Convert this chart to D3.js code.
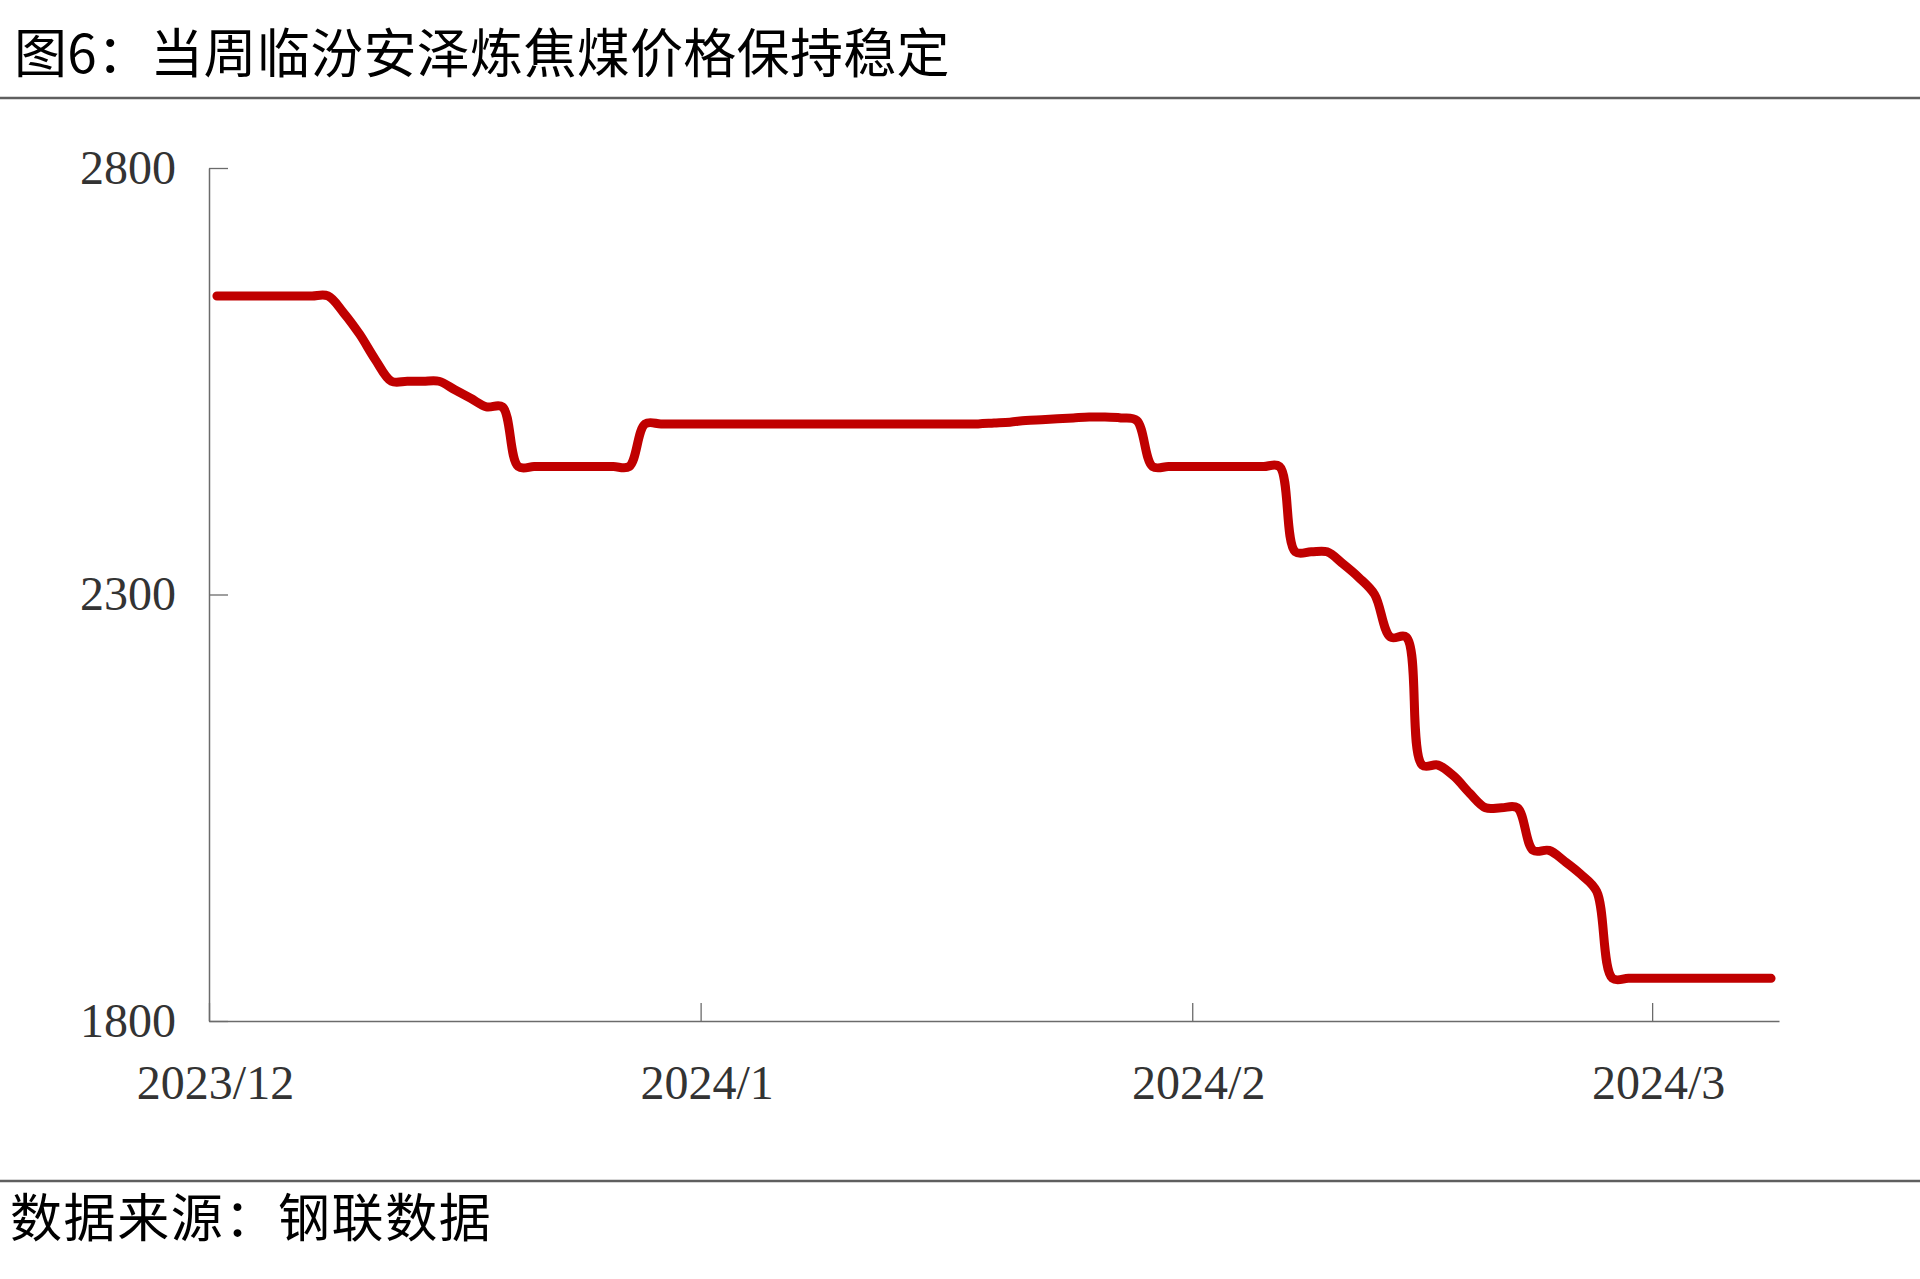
<!DOCTYPE html>
<html>
<head>
<meta charset="utf-8">
<script src="https://cdn.jsdelivr.net/npm/d3@7/dist/d3.min.js"></script>
<style>
  html, body { margin: 0; padding: 0; background: #fff; }
  svg { display: block; }
</style>
</head>
<body>
<svg id="chart" width="1920" height="1279"></svg>
<script>
// ---- Data ----
const titleText = "图6：当周临汾安泽炼焦煤价格保持稳定";
const sourceText = "数据来源：钢联数据";
const yTicks = [1800, 2300, 2800];
const xTickLabels = ["2023/12", "2024/1", "2024/2", "2024/3"];
// daily prices, one value per calendar day
const decValues = [2650, 2650, 2650, 2650, 2650, 2650, 2650, 2650, 2630, 2605,
                   2575, 2550, 2550, 2550, 2550, 2540, 2530, 2520, 2520, 2450,
                   2450, 2450, 2450, 2450, 2450, 2450, 2450, 2500, 2500, 2500, 2500];
const janValues = [2500, 2500, 2500, 2500, 2500, 2500, 2500, 2500, 2500, 2500,
                   2500, 2500, 2500, 2500, 2500, 2500, 2500, 2500, 2501, 2502,
                   2504, 2505, 2506, 2507, 2508, 2508, 2507, 2504, 2450, 2450, 2450];
const febValues = [2450, 2450, 2450, 2450, 2450, 2450, 2350, 2350, 2350, 2336,
                   2320, 2300, 2250, 2250, 2100, 2100, 2087, 2067, 2050, 2050,
                   2050, 2000, 2000, 1987, 1972, 1952, 1850, 1850, 1850];
const marValues = [1850, 1850, 1850, 1850, 1850, 1850, 1850, 1850];

// ---- Build the series ----
const months = [
  { start: new Date(2023, 11, 1), values: decValues },
  { start: new Date(2024, 0, 1), values: janValues },
  { start: new Date(2024, 1, 1), values: febValues },
  { start: new Date(2024, 2, 1), values: marValues }
];
const series = [];
months.forEach(m => {
  m.values.forEach((v, i) => {
    series.push({ date: d3.timeDay.offset(m.start, i), value: v });
  });
});
const parseTick = d3.timeParse("%Y/%m");
const xTickDates = xTickLabels.map(s => parseTick(s));

// ---- Layout ----
const svg = d3.select("#chart");
const W = 1920, H = 1279;
const plot = { left: 209, right: 1779, top: 168, bottom: 1021 };

svg.append("rect").attr("width", W).attr("height", H).attr("fill", "#fff");

// title
svg.append("text")
  .attr("x", 14).attr("y", 73)
  .attr("font-family", "'Noto Sans CJK SC', sans-serif")
  .attr("font-size", 53)
  .attr("letter-spacing", 0.3)
  .attr("fill", "#000")
  .text(titleText);

// separator lines
svg.append("line").attr("x1", 0).attr("x2", W).attr("y1", 98).attr("y2", 98)
  .attr("stroke", "#5f5f5f").attr("stroke-width", 2.5);
svg.append("line").attr("x1", 0).attr("x2", W).attr("y1", 1181).attr("y2", 1181)
  .attr("stroke", "#5f5f5f").attr("stroke-width", 2.5);

// source
svg.append("text")
  .attr("x", 10).attr("y", 1237)
  .attr("font-family", "'Noto Sans CJK SC', sans-serif")
  .attr("font-size", 52)
  .attr("letter-spacing", 1.6)
  .attr("fill", "#000")
  .text(sourceText);

// scales
const x = d3.scaleTime()
  .domain([new Date(2023, 11, 1), new Date(2024, 2, 9)])
  .range([plot.left, plot.right]);
const y = d3.scaleLinear()
  .domain([1800, 2800])
  .range([plot.bottom, plot.top]);

const axisColor = "#6b6b6b";
const labelColor = "#333";

// y axis
const gy = svg.append("g")
  .attr("transform", `translate(${plot.left},0)`)
  .call(d3.axisLeft(y).tickValues(yTicks).tickFormat(d3.format("d"))
    .tickSizeInner(-19).tickSizeOuter(0).tickPadding(33));
gy.select(".domain").attr("stroke", axisColor).attr("stroke-width", 1.5);
gy.selectAll(".tick line").attr("stroke", axisColor).attr("stroke-width", 1.3);
gy.selectAll(".tick text")
  .attr("font-family", "'Liberation Serif', 'Times New Roman', serif")
  .attr("font-size", 48)
  .attr("fill", labelColor);

// x axis
const gx = svg.append("g")
  .attr("transform", `translate(0,${plot.bottom})`)
  .call(d3.axisBottom(x).tickValues(xTickDates)
    .tickFormat((d, i) => xTickLabels[i])
    .tickSizeInner(-18).tickSizeOuter(0).tickPadding(44));
gx.select(".domain").attr("stroke", axisColor).attr("stroke-width", 1.5);
gx.selectAll(".tick line").attr("stroke", axisColor).attr("stroke-width", 1.3);
gx.selectAll(".tick text")
  .attr("dx", 6)
  .attr("font-family", "'Liberation Serif', 'Times New Roman', serif")
  .attr("font-size", 48)
  .attr("fill", labelColor);

// line (points placed mid-day, like a date axis with marks between ticks)
const line = d3.line()
  .x(d => x(d3.timeHour.offset(d.date, 12)))
  .y(d => y(d.value))
  .curve(d3.curveCatmullRom.alpha(0.5));

svg.append("path")
  .datum(series)
  .attr("d", line)
  .attr("fill", "none")
  .attr("stroke", "#C00000")
  .attr("stroke-width", 9)
  .attr("stroke-linecap", "round")
  .attr("stroke-linejoin", "round");
</script>
</body>
</html>
